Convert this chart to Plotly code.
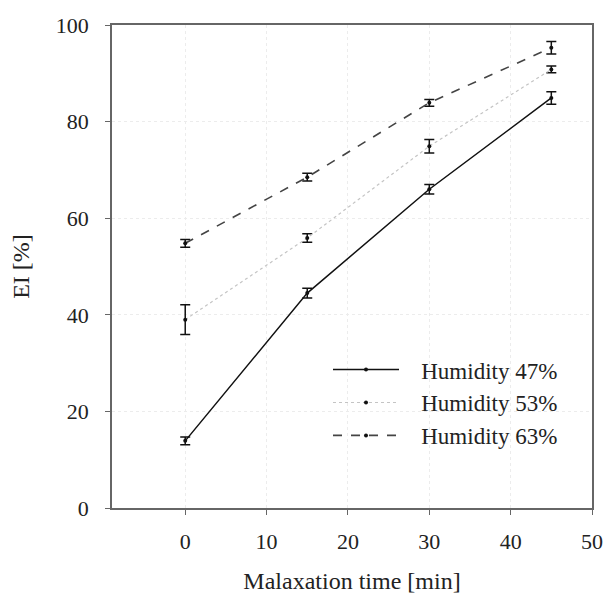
import plotly.graph_objects as go

time_min = [0, 15, 30, 45]
hum47 = [13.9, 44.5, 66.0, 84.9]
hum47_err = [0.8, 1.0, 1.0, 1.3]
hum53 = [39.0, 55.9, 74.9, 90.8]
hum53_err = [3.1, 0.9, 1.4, 0.7]
hum63 = [54.8, 68.5, 83.9, 95.3]
hum63_err = [0.8, 0.8, 0.7, 1.3]

series = [
    ("Humidity 47%", hum47, hum47_err, "solid", "#111111", 1.5),
    ("Humidity 53%", hum53, hum53_err, "dot", "#c4c4c4", 1.2),
    ("Humidity 63%", hum63, hum63_err, "dash", "#444444", 1.6),
]

FONT = "Liberation Serif"
PAD = "\u00a0\u00a0\u00a0"
fig = go.Figure()
for i, (name, vals, errs, dash, col, lw) in enumerate(series):
    fig.add_trace(go.Scatter(
        x=time_min, y=vals, name=PAD + name, mode="lines+markers",
        legendgroup=f"g{i}",
        line=dict(color=col, dash=dash, width=lw),
        marker=dict(color="#111111", size=4),
        error_y=dict(type="data", array=errs, visible=True, color="#111111",
                     thickness=1.5, width=5),
    ))

axis_common = dict(
    showline=True, linecolor="#666666", linewidth=1.5, mirror=True,
    ticks="outside", ticklen=5, tickcolor="#666666",
    showgrid=True, gridcolor="#ececec", griddash="dot", gridwidth=1,
    zeroline=False, automargin=False,
    tickfont=dict(family=FONT, size=22, color="#222222"),
)

fig.update_layout(
    width=604, height=593,
    margin=dict(l=104, r=20, t=17, b=93),
    paper_bgcolor="white", plot_bgcolor="white",
    font=dict(family=FONT, color="#222222"),
    showlegend=True,
    legend=dict(x=0.45, y=0.331, xanchor="left", yanchor="top",
                font=dict(family=FONT, size=23, color="#222222"),
                bgcolor="rgba(0,0,0,0)", tracegroupgap=0, itemwidth=66,
                traceorder="grouped"),
    xaxis=dict(range=[-9, 50], tickvals=[0, 10, 20, 30, 40, 50],
               ticklabelstandoff=8,
               title=dict(text="Malaxation time [min]", font=dict(family=FONT, size=24), standoff=19),
               **axis_common),
    yaxis=dict(range=[0, 100], tickvals=[0, 20, 40, 60, 80, 100],
               ticklabelstandoff=12,
               title=dict(text="EI [%]", font=dict(family=FONT, size=24), standoff=22),
               **axis_common),
)

fig.write_html("out.html")
